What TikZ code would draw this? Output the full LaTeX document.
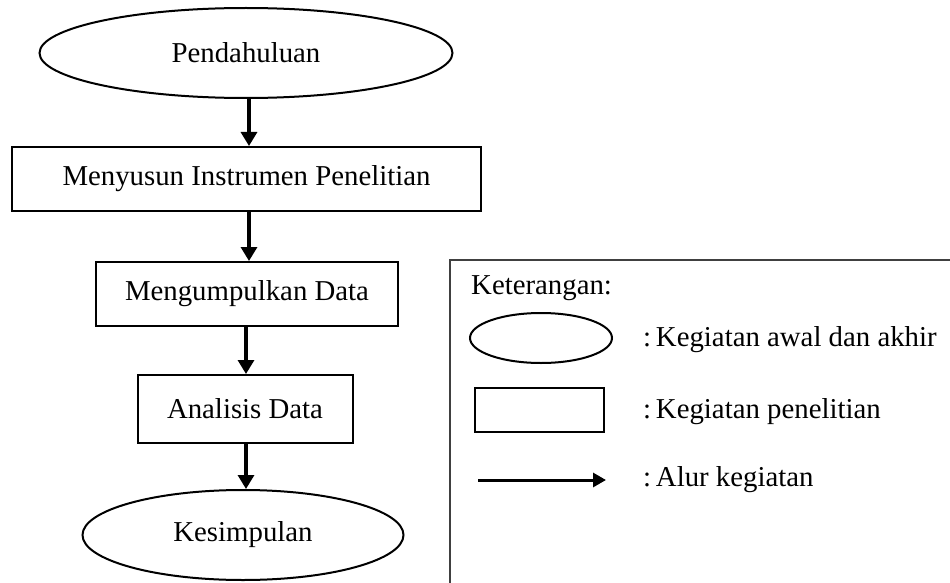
\documentclass[tikz,border=0pt]{standalone}
\usepackage{fontspec}
\setmainfont{Liberation Serif}
\usetikzlibrary{shapes.geometric,arrows.meta}
\begin{document}
\begin{tikzpicture}[x=1pt,y=-1pt,
  every node/.style={font=\fontsize{28.8}{34}\selectfont, text=black, inner sep=0pt},
  oval/.style={ellipse, draw, line width=2pt},
  stepbox/.style={rectangle, draw, line width=2pt},
  flow/.style={line width=3.2pt, -{Triangle[length=14pt,width=16pt]}},
  lbl/.style={anchor=west}]
\useasboundingbox (0,0) rectangle (950,583);
\clip (0,0) rectangle (950,583);
\fill[white] (0,0) rectangle (950,583);
% main flow
\node[oval, minimum width=413pt, minimum height=90pt] (p) at (246,53) {Pendahuluan};
\node[stepbox, minimum width=469pt, minimum height=64pt] (m) at (246.5,179) {Menyusun Instrumen Penelitian};
\node[stepbox, minimum width=302pt, minimum height=64pt] (k) at (247,294) {Mengumpulkan Data};
\node[stepbox, minimum width=215pt, minimum height=68pt] (a) at (245,409) {Analisis Data};
\node[oval, minimum width=321pt, minimum height=90pt] (s) at (243,535) {Kesimpulan};
\draw[flow] (p.south -| 249,0) -- (m.north -| 249,0);
\draw[flow] (m.south -| 249,0) -- (k.north -| 249,0);
\draw[flow] (k.south -| 246,0) -- (a.north -| 246,0);
\draw[flow] (a.south -| 246,0) -- (s.north -| 246,0);
% legend
\draw[line width=2.4pt, draw=black!75] (450,600) -- (450,260) -- (970,260);
\node[lbl] (ket) at (471,288) {Keterangan:};
\node[oval, minimum width=142pt, minimum height=50pt] (lo) at (541,338) {};
\node[stepbox, minimum width=129pt, minimum height=44pt] (lr) at (539.5,410) {};
\coordinate (la1) at (478,480);
\coordinate (la2) at (606,480);
\draw[line width=3pt, -{Triangle[length=13pt,width=14pt]}] (la1) -- (la2);
\node[lbl] (t1) at (643,340) {:\,Kegiatan awal dan akhir};
\node[lbl] (t2) at (643,412) {:\,Kegiatan penelitian};
\node[lbl] (t3) at (643,480) {:\,Alur kegiatan};
\end{tikzpicture}
\end{document}
